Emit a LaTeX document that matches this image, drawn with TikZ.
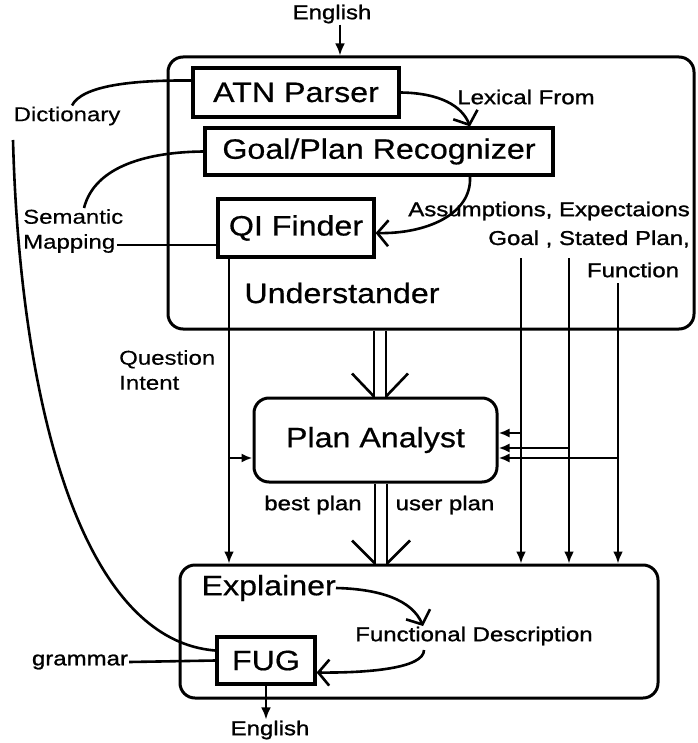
\documentclass[tikz,border=0pt]{standalone}
\usepackage{fontspec}
\setmainfont{Liberation Sans}
\newfontfamily\bigf[FakeStretch=1.15,FakeBold=0.6]{Liberation Sans}
\newfontfamily\smf[FakeStretch=1.2,FakeBold=0.4]{Liberation Sans}
\newfontfamily\smb[FakeStretch=1.2,FakeBold=1.2]{Liberation Sans}
\usetikzlibrary{arrows.meta,calc}
\tikzset{
 box/.style={draw, line width=3.2pt, inner sep=0pt, font=\bigf\fontsize{28}{30}\selectfont},
 rbox/.style={box, rounded corners=15pt, line width=3pt},
 lbl/.style={inner sep=1pt, font=\smf\fontsize{20}{25}\selectfont},
 blbl/.style={inner sep=1pt, font=\smb\fontsize{20}{25}\selectfont},
 biglbl/.style={inner sep=0pt, font=\bigf\fontsize{28}{30}\selectfont},
 conn/.style={line width=2.6pt},
 farrow/.style={conn, -{Latex[length=12pt,width=10pt]}},
 sarrow/.style={conn, -{Latex[length=11pt,width=9pt]}},
 varrow/.style={conn, -{Straight Barb[length=11pt,width=26pt]}},
}
\begin{document}
\begin{tikzpicture}[x=1pt,y=-1pt]
\fill[white] (0,0) rectangle (697,743);
\useasboundingbox (0,0) rectangle (697,743);

% main boxes
\node[rbox, minimum width=526pt, minimum height=272pt] (und) at (431,193) {};
\node[rbox, minimum width=243pt, minimum height=84pt] (pa) at (375.5,440) {Plan Analyst};
\node[rbox, minimum width=478pt, minimum height=133pt] (exp) at (419,631.5) {};
\node[box, minimum width=206pt, minimum height=49pt] (atn) at (296,92.5) {ATN Parser};
\node[box, minimum width=348pt, minimum height=47pt] (gpr) at (379,151.5) {Goal/Plan Recognizer};
\node[box, minimum width=156pt, minimum height=58pt] (qif) at (296,228) {QI Finder};
\node[box, minimum width=98pt, minimum height=47pt] (fug) at (266,660.5) {FUG};

% labels
\node[biglbl] (undlbl) at (342,293) {Understander};
\node[biglbl, anchor=east] (explbl) at (336,588) {Explainer};
\node[blbl] (engtop) at (332,14) {English};
\node[blbl] (engbot) at (270,730) {English};
\node[lbl] (dict) at (67,116) {Dictionary};
\node[blbl] (lex) at (526,97) {Lexical From};
\node[lbl, align=left, anchor=north west] (sem) at (22,208) {Semantic\\Mapping};
\node[blbl, anchor=east] (assump) at (691,211) {Assumptions, Expectaions};
\node[blbl, anchor=east] (goalsp) at (691,239) {Goal , Stated Plan,};
\node[blbl] (func) at (633,270) {Function};
\node[lbl, align=left, anchor=north west] (qint) at (118,349) {Question\\Intent};
\node[blbl] (best) at (313,505) {best plan};
\node[blbl] (user) at (445,505) {user plan};
\node[blbl] (fd) at (474,636) {Functional Description};
\node[blbl] (gram) at (80,662) {grammar};

% helper coordinates
\coordinate (ax) at (340,0);
\coordinate (gx) at (470,0);
\coordinate (qx) at (229,0);
\coordinate (qb) at (229,458);
\coordinate (cL) at (374,0);
\coordinate (cR) at (386,0);
\coordinate (v1) at (521,258);
\coordinate (v2) at (569,258);
\coordinate (v3) at (618,283);
\coordinate (b1) at (521,433);
\coordinate (b2) at (569,448);
\coordinate (b3) at (618,458);
\coordinate (dstart) at (13,140);
\coordinate (smap) at (117,245);
\coordinate (fdt) at (423,626);
\coordinate (fdb) at (424,650);

% English in
\draw[farrow] (ax |- engtop.south) -- (ax |- und.north);
% ATN -> Goal/Plan
\draw[varrow] (atn.east) .. controls (440,93) and (462,106) .. (gx |- gpr.north);
% Goal/Plan -> QI Finder
\draw[varrow] (gx |- gpr.south) .. controls (472,215) and (425,234) .. ($(qif.east)+(0,5)$);
% Dictionary
\draw[conn] ($(atn.west)+(0,-12)$) .. controls (130,80) and (82,86) .. ($(dict.north)+(5,0)$);
\draw[conn] (dstart) .. controls (20,400) and (80,640) .. ($(fug.west)+(0,-10)$);
% Semantic mapping
\draw[conn] (gpr.west) .. controls (150,152) and (95,165) .. ($(sem.north west)+(62,0)$);
\draw[conn] (smap) -- (smap -| qif.west);
% Question intent
\draw[farrow] (qx |- qif.south) -- (qx |- exp.north);
\draw[sarrow] (qb) -- (qb -| pa.west);
% double arrows
\draw[conn] (cL |- und.south) -- (cL |- pa.north);
\draw[conn] (cR |- und.south) -- (cR |- pa.north);
\draw[conn] ($(cL |- pa.north)+(-22,-23)$) -- (cL |- pa.north);
\draw[conn] ($(cR |- pa.north)+(22,-23)$) -- (cR |- pa.north);
\draw[conn] ($(cL |- pa.south)+(1,0)$) -- ($(cL |- exp.north)+(1,0)$);
\draw[conn] ($(cR |- pa.south)+(1,0)$) -- ($(cR |- exp.north)+(1,0)$);
\draw[conn] ($(cL |- exp.north)+(-22,-23)$) -- ($(cL |- exp.north)+(1,0)$);
\draw[conn] ($(cR |- exp.north)+(24,-23)$) -- ($(cR |- exp.north)+(1,0)$);
% Goal / Stated plan / Function lines
\draw[farrow] (v1) -- (v1 |- exp.north);
\draw[farrow] (v2) -- (v2 |- exp.north);
\draw[farrow] (v3) -- (v3 |- exp.north);
\draw[sarrow] (b1) -- (b1 -| pa.east);
\draw[sarrow] (b2) -- (b2 -| pa.east);
\draw[sarrow] (b3) -- (b3 -| pa.east);
% Explainer -> Functional Description -> FUG
\draw[varrow] (explbl.east) .. controls (380,589) and (412,600) .. (fdt);
\draw[varrow] (fdb) .. controls (424,668) and (370,673) .. ($(fug.east)+(0,12)$);
% grammar
\draw[conn] (gram.east) -- (fug.west);
% English out
\draw[farrow] (fug.south) -- (fug.south |- engbot.north);
\end{tikzpicture}
\end{document}
